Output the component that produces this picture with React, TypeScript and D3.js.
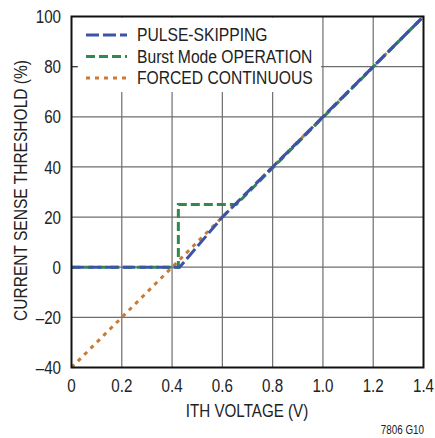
import React from "react";
import * as d3 from "d3";

const xTicks = [0, 0.2, 0.4, 0.6, 0.8, 1.0, 1.2, 1.4];
const xTickLabels = ["0", "0.2", "0.4", "0.6", "0.8", "1.0", "1.2", "1.4"];
const yTicks = [-40, -20, 0, 20, 40, 60, 80, 100];
const yTickLabels = ["–40", "–20", "0", "20", "40", "60", "80", "100"];

const forcedV = [0, 1.4];
const forcedI = [-40, 100];
const burstV = [0, 0.425, 0.425, 0.655, 1.4];
const burstI = [0, 0, 25, 25, 100];
const pulseV = [0, 0.43, 0.6, 1.4];
const pulseI = [0, 0, 20, 100];

const seriesNames = ["PULSE-SKIPPING", "Burst Mode OPERATION", "FORCED CONTINUOUS"];
const seriesColors = ["#3a55a6", "#2f8a4c", "#c97b33"];
const seriesDash = ["13,4", "9,4", "4,5"];

const W = 435, H = 438;
const left = 71.5, right = 423.5, top = 16.5, bottom = 367.5;
const FONT = "'Liberation Sans', Arial, sans-serif";

function T(props: { x: number; y: number; size: number; sx?: number; anchor?: string; rotate?: number; dy?: string; children: React.ReactNode }) {
  const { x, y, size, sx = 0.82, anchor = "start", rotate = 0, dy, children } = props;
  return (
    <text
      transform={`translate(${x},${y}) rotate(${rotate}) scale(${sx},1)`}
      textAnchor={anchor}
      dy={dy}
      fontSize={size}
      fill="#222"
    >
      {children}
    </text>
  );
}

export default function App() {
  const x = d3.scaleLinear().domain([0, 1.4]).range([left, right]);
  const y = d3.scaleLinear().domain([-40, 100]).range([bottom, top]);
  const line = d3.line<[number, number]>().x(d => x(d[0])).y(d => y(d[1]));
  const zip = (a: number[], b: number[]) => a.map((v, i) => [v, b[i]] as [number, number]);
  const legendBox = { x0: 78, x1: 321, y1: 92 };

  return (
    <svg width={W} height={H} style={{ position: "absolute", left: 0, top: 0, background: "#fff" }} fontFamily={FONT}>
      <rect x={0} y={0} width={W} height={H} fill="#fff" />
      {xTicks.slice(1, -1).map(t => (
        <line key={"gx" + t} x1={x(t)} x2={x(t)} y1={top} y2={bottom} stroke="#6e6e6e" strokeWidth={1.2} />
      ))}
      {yTicks.slice(1, -1).map(t => (
        <line key={"gy" + t} x1={left} x2={right} y1={y(t)} y2={y(t)} stroke="#6e6e6e" strokeWidth={1.2} />
      ))}
      <rect x={legendBox.x0} y={top + 1} width={legendBox.x1 - legendBox.x0} height={legendBox.y1 - top - 1} fill="#fff" />
      <line x1={left} x2={left + 6} y1={y(80)} y2={y(80)} stroke="#444" strokeWidth={1.2} />
      <path d={line(zip(forcedV, forcedI)) || ""} fill="none" stroke={seriesColors[2]} strokeWidth={3} strokeDasharray={seriesDash[2]} />
      <path d={line(zip(burstV, burstI)) || ""} fill="none" stroke={seriesColors[1]} strokeWidth={3} strokeDasharray={seriesDash[1]} />
      <path d={line(zip(pulseV, pulseI)) || ""} fill="none" stroke={seriesColors[0]} strokeWidth={3} strokeDasharray={seriesDash[0]} />
      <rect x={left} y={top} width={right - left} height={bottom - top} fill="none" stroke="#111" strokeWidth={2} />
      {seriesNames.map((n, i) => {
        const ly = 35 + i * 21.5;
        return (
          <g key={n}>
            <line x1={86} x2={127} y1={ly} y2={ly} stroke={seriesColors[i]} strokeWidth={3} strokeDasharray={seriesDash[i]} />
            <T x={137} y={ly} size={18} sx={0.87} dy="0.36em">{n}</T>
          </g>
        );
      })}
      {xTicks.map((t, i) => (
        <T key={"xl" + t} x={x(t)} y={392} size={18.5} anchor="middle">{xTickLabels[i]}</T>
      ))}
      {yTicks.map((t, i) => (
        <T key={"yl" + t} x={61} y={y(t)} size={18.5} anchor="end" dy="0.36em">{yTickLabels[i]}</T>
      ))}
      <T x={247} y={417} size={18.5} anchor="middle">ITH VOLTAGE (V)</T>
      <T x={27} y={190.5} size={18.5} sx={0.84} anchor="middle" rotate={-90}>CURRENT SENSE THRESHOLD (%)</T>
      <T x={424} y={434} size={12} anchor="end">7806 G10</T>
    </svg>
  );
}
